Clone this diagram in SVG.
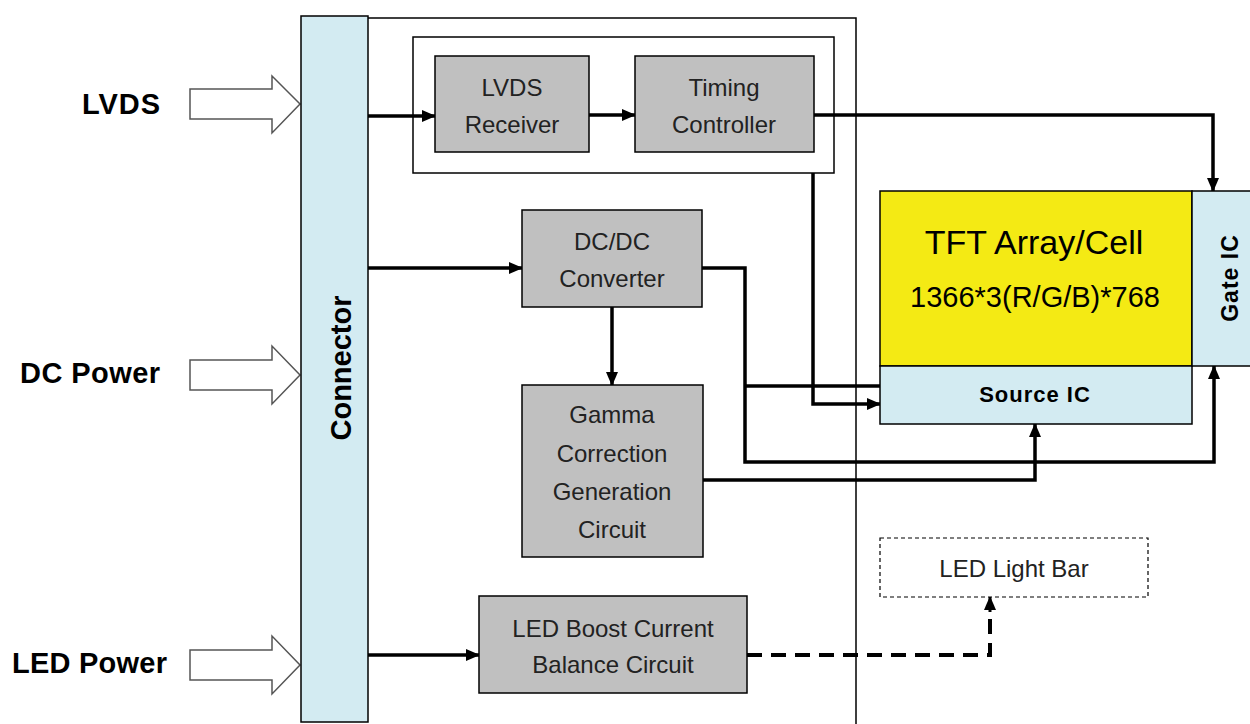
<svg xmlns="http://www.w3.org/2000/svg" width="1250" height="724" viewBox="0 0 1250 724">
<style>
.gray{fill:#c0c0c0;stroke:#000;stroke-width:1.5}
.blue{fill:#d3ebf2;stroke:#000;stroke-width:1.5}
.wbox{fill:#fff;stroke:#000;stroke-width:1.5}
.hollow{fill:#fff;stroke:#555;stroke-width:1.5}
.t{font-family:"Liberation Sans",Arial,sans-serif;font-size:24px;fill:#222;text-anchor:middle}
.lbl{font-family:"Liberation Sans",Arial,sans-serif;font-size:29px;font-weight:bold;fill:#000}
.b{font-family:"Liberation Sans",Arial,sans-serif;font-weight:bold;fill:#000;text-anchor:middle}
.w{fill:none;stroke:#000;stroke-width:3.5}
</style>
<defs>
<marker id="ah" markerUnits="userSpaceOnUse" markerWidth="14" markerHeight="12" refX="13" refY="6" orient="auto">
<path d="M0,0 L14,6 L0,12 z" fill="#000"/>
</marker>
</defs>
<rect width="1250" height="724" fill="#fff"/>

<g id="outer"><path d="M368,18 H856 V724" fill="none" stroke="#000" stroke-width="1.5"/></g>

<g id="inputs">
<text class="lbl" x="82" y="114" textLength="78">LVDS</text>
<path class="hollow" d="M190,89 H272 V76 L300,104 L272,133 V119 H190 Z"/>
<text class="lbl" x="20" y="383" textLength="140">DC Power</text>
<path class="hollow" d="M190,360 H272 V346 L300,375 L272,404 V390 H190 Z"/>
<text class="lbl" x="12" y="673" textLength="155">LED Power</text>
<path class="hollow" d="M190,650 H272 V636 L300,665 L272,694 V680 H190 Z"/>
</g>

<g id="lvds-group"><rect class="wbox" x="413" y="37" width="421" height="136"/></g>

<g id="connectors">
<path class="w" d="M368,116 H435" marker-end="url(#ah)"/>
<path class="w" d="M589,115 H635" marker-end="url(#ah)"/>
<path class="w" d="M814,115 H1213 V191" marker-end="url(#ah)"/>
<path class="w" d="M813,173 V404 H880" marker-end="url(#ah)"/>
<path class="w" d="M368,268 H522" marker-end="url(#ah)"/>
<path class="w" d="M612,307 V385" marker-end="url(#ah)"/>
<path class="w" d="M702,268 H745 V462 H1214 V366" marker-end="url(#ah)"/>
<path class="w" d="M745,386 H880"/>
<path class="w" d="M703,480 H1035 V424" marker-end="url(#ah)"/>
<path class="w" d="M368,655 H479" marker-end="url(#ah)"/>
<path d="M747,655 H990 V610" fill="none" stroke="#000" stroke-width="4" stroke-dasharray="15,9"/>
<path d="M990,612 V597" fill="none" stroke="#000" stroke-width="3" marker-end="url(#ah)"/>
</g>

<g id="connector">
<rect class="blue" x="301" y="16" width="67" height="706"/>
<text class="b" font-size="29" transform="translate(351,368) rotate(-90)">Connector</text>
</g>

<g id="lvds-receiver">
<rect class="gray" x="435" y="56" width="154" height="96"/>
<text class="t" x="512" y="96">LVDS</text>
<text class="t" x="512" y="133">Receiver</text>
</g>

<g id="timing-controller">
<rect class="gray" x="635" y="56" width="179" height="96"/>
<text class="t" x="724" y="96">Timing</text>
<text class="t" x="724" y="133">Controller</text>
</g>

<g id="dcdc">
<rect class="gray" x="522" y="210" width="180" height="97"/>
<text class="t" x="612" y="250">DC/DC</text>
<text class="t" x="612" y="287">Converter</text>
</g>

<g id="gamma">
<rect class="gray" x="522" y="385" width="181" height="172"/>
<text class="t" x="612" y="423">Gamma</text>
<text class="t" x="612" y="462">Correction</text>
<text class="t" x="612" y="500">Generation</text>
<text class="t" x="612" y="538">Circuit</text>
</g>

<g id="led-boost">
<rect class="gray" x="479" y="596" width="268" height="97"/>
<text class="t" x="613" y="637">LED Boost Current</text>
<text class="t" x="613" y="673">Balance Circuit</text>
</g>

<g id="led-light-bar">
<rect x="880" y="538" width="268" height="59" fill="#fff" stroke="#000" stroke-width="1.2" stroke-dasharray="4,3"/>
<text class="t" x="1014" y="577">LED Light Bar</text>
</g>

<g id="tft">
<rect x="880" y="191" width="312" height="175" fill="#f4ea14" stroke="#000" stroke-width="1.5"/>
<text class="b" font-size="34" x="1034" y="254" style="font-weight:normal">TFT Array/Cell</text>
<text class="b" font-size="29" x="1035" y="307" style="font-weight:normal">1366*3(R/G/B)*768</text>
</g>

<g id="source-ic">
<rect class="blue" x="880" y="366" width="312" height="58"/>
<text class="b" font-size="22" x="1035" y="402" letter-spacing="1">Source IC</text>
</g>

<g id="gate-ic">
<rect class="blue" x="1192" y="191" width="70" height="175"/>
<text class="b" font-size="23" letter-spacing="1" transform="translate(1238,278) rotate(-90)">Gate IC</text>
</g>
</svg>
